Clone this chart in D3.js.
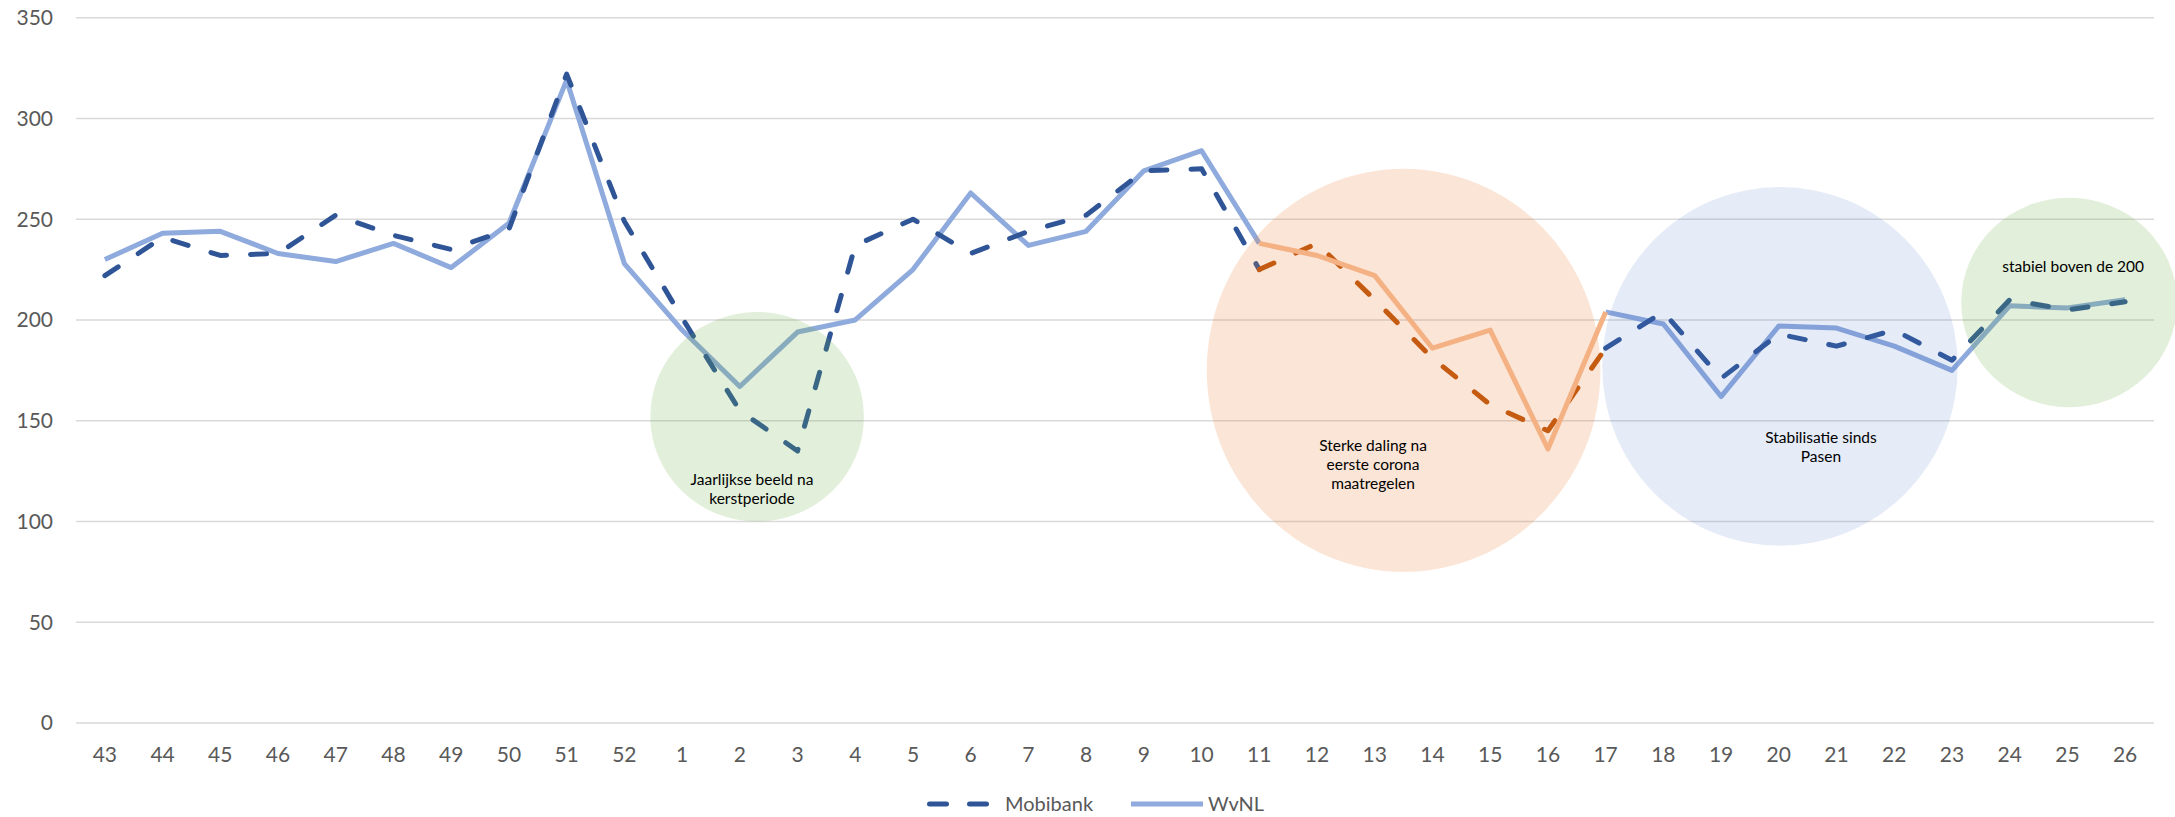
<!DOCTYPE html>
<html>
<head>
<meta charset="utf-8">
<script src="https://cdn.jsdelivr.net/npm/d3@7"></script>
<style>
  body { margin: 0; background: #fff; }
  svg { display: block; font-family: Lato, "Open Sans", sans-serif; }
</style>
</head>
<body>
<div id="chart"></div>
<script>
var weeks = ["43", "44", "45", "46", "47", "48", "49", "50", "51", "52",
  "1", "2", "3", "4", "5", "6", "7", "8", "9", "10", "11", "12", "13",
  "14", "15", "16", "17", "18", "19", "20", "21", "22", "23", "24", "25", "26"];

var mobibank = [222, 241, 232, 233, 252, 242, 235, 245, 322, 249,
  201, 155, 135, 237, 250, 233, 244, 252, 274, 275, 225, 238, 210,
  181, 158, 145, 186, 204, 171, 193, 187, 195, 180, 210, 205, 209];

var wvnl = [230, 243, 244, 233, 229, 238, 226, 248, 319, 228,
  195, 167, 194, 200, 225, 263, 237, 244, 274, 284, 238, 232, 222,
  186, 195, 136, 204, 198, 162, 197, 196, 187, 175, 207, 206, 210];

var yTicks = [0, 50, 100, 150, 200, 250, 300, 350];

// weeks 11 -> 17 are highlighted in orange
var hlFrom = "11", hlTo = "17";

// circles: centre as week index + value, radius in weeks / value units
var circles = [
  { idx: 11.3, val: 152, rw: 1.85, rv: 52, fill: "#70AD47", op: 0.2 },
  { idx: 22.5, val: 175, rw: 3.41, rv: 100, fill: "#ED7D31", op: 0.2 },
  { idx: 29.02, val: 177, rw: 3.08, rv: 89, fill: "#4472C4", op: 0.14 },
  { idx: 34.03, val: 208.7, rw: 1.87, rv: 52, fill: "#70AD47", op: 0.2 }
];

var notes = [
  { idx: 11.21, val: 121, lines: ["Jaarlijkse beeld na", "kerstperiode"] },
  { idx: 21.97, val: 137.6, lines: ["Sterke daling na", "eerste corona", "maatregelen"] },
  { idx: 29.73, val: 141.6, lines: ["Stabilisatie sinds", "Pasen"] },
  { idx: 34.1, val: 226.4, lines: ["stabiel boven de 200"] }
];

var width = 2175, height = 817;

var svg = d3.select("#chart").append("svg")
  .attr("width", width)
  .attr("height", height);

var x = d3.scalePoint().domain(weeks).range([76, 2154]).padding(0.5);
var y = d3.scaleLinear().domain([0, 350]).range([723, 17.7]);
var xi = d3.scaleLinear().domain([0, weeks.length - 1])
  .range([x(weeks[0]), x(weeks[weeks.length - 1])]);

// grid
svg.append("g").selectAll("line")
  .data(yTicks)
  .enter().append("line")
  .attr("x1", 76).attr("x2", 2154)
  .attr("y1", function(d) { return y(d); })
  .attr("y2", function(d) { return y(d); })
  .attr("stroke", "#D9D9D9")
  .attr("stroke-width", 1.6);

// y labels
svg.append("g").selectAll("text")
  .data(yTicks)
  .enter().append("text")
  .attr("x", 53)
  .attr("y", function(d) { return y(d); })
  .attr("dy", "0.35em")
  .attr("text-anchor", "end")
  .attr("fill", "#595959")
  .attr("font-size", 21)
  .text(function(d) { return d; });

// x labels
svg.append("g").selectAll("text")
  .data(weeks)
  .enter().append("text")
  .attr("x", function(d) { return x(d); })
  .attr("y", 755)
  .attr("dy", "0.35em")
  .attr("text-anchor", "middle")
  .attr("fill", "#595959")
  .attr("font-size", 21)
  .text(function(d) { return d; });

var line = d3.line()
  .x(function(d) { return x(d.w); })
  .y(function(d) { return y(d.v); });

function pts(vals, from, to) {
  var a = weeks.indexOf(from), b = weeks.indexOf(to);
  var out = [];
  for (var i = a; i <= b; i++) out.push({ w: weeks[i], v: vals[i] });
  return out;
}

var dash = "16,24";
var first = weeks[0], last = weeks[weeks.length - 1];

function drawSeries(vals, color, dashed, from, to) {
  svg.append("path")
    .datum(pts(vals, from, to))
    .attr("d", line)
    .attr("fill", "none")
    .attr("stroke", color)
    .attr("stroke-width", 5)
    .attr("stroke-linejoin", "round")
    .attr("stroke-linecap", dashed ? "round" : "butt")
    .attr("stroke-dasharray", dashed ? dash : null);
}

// blue parts
drawSeries(wvnl, "#8FAADC", false, first, hlFrom);
drawSeries(wvnl, "#8FAADC", false, hlTo, last);
drawSeries(mobibank, "#2F5597", true, first, hlFrom);
drawSeries(mobibank, "#2F5597", true, hlTo, last);

// translucent circles
svg.append("g").selectAll("ellipse")
  .data(circles)
  .enter().append("ellipse")
  .attr("cx", function(d) { return xi(d.idx); })
  .attr("cy", function(d) { return y(d.val); })
  .attr("rx", function(d) { return xi(d.rw) - xi(0); })
  .attr("ry", function(d) { return y(0) - y(d.rv); })
  .attr("fill", function(d) { return d.fill; })
  .attr("fill-opacity", function(d) { return d.op; });

// orange highlight
drawSeries(mobibank, "#C55A11", true, hlFrom, hlTo);
drawSeries(wvnl, "#F4B183", false, hlFrom, hlTo);

// annotations
notes.forEach(function(n) {
  var t = svg.append("text")
    .attr("text-anchor", "middle")
    .attr("fill", "#000")
    .attr("font-size", 15.5)
    .attr("x", xi(n.idx))
    .attr("y", y(n.val));
  n.lines.forEach(function(s, i) {
    t.append("tspan")
      .attr("x", xi(n.idx))
      .attr("dy", i === 0 ? "0.35em" : 19)
      .text(s);
  });
});

// legend
var lg = svg.append("g").attr("transform", "translate(0,804)");
lg.append("line")
  .attr("x1", 929.5).attr("x2", 989).attr("y1", 0).attr("y2", 0)
  .attr("stroke", "#2F5597").attr("stroke-width", 5)
  .attr("stroke-linecap", "round").attr("stroke-dasharray", "17,23");
lg.append("text")
  .attr("x", 1005).attr("dy", "0.35em")
  .attr("fill", "#595959").attr("font-size", 20)
  .text("Mobibank");
lg.append("line")
  .attr("x1", 1131).attr("x2", 1203).attr("y1", 0).attr("y2", 0)
  .attr("stroke", "#8FAADC").attr("stroke-width", 5);
lg.append("text")
  .attr("x", 1208).attr("dy", "0.35em")
  .attr("fill", "#595959").attr("font-size", 20)
  .text("WvNL");
</script>
</body>
</html>
